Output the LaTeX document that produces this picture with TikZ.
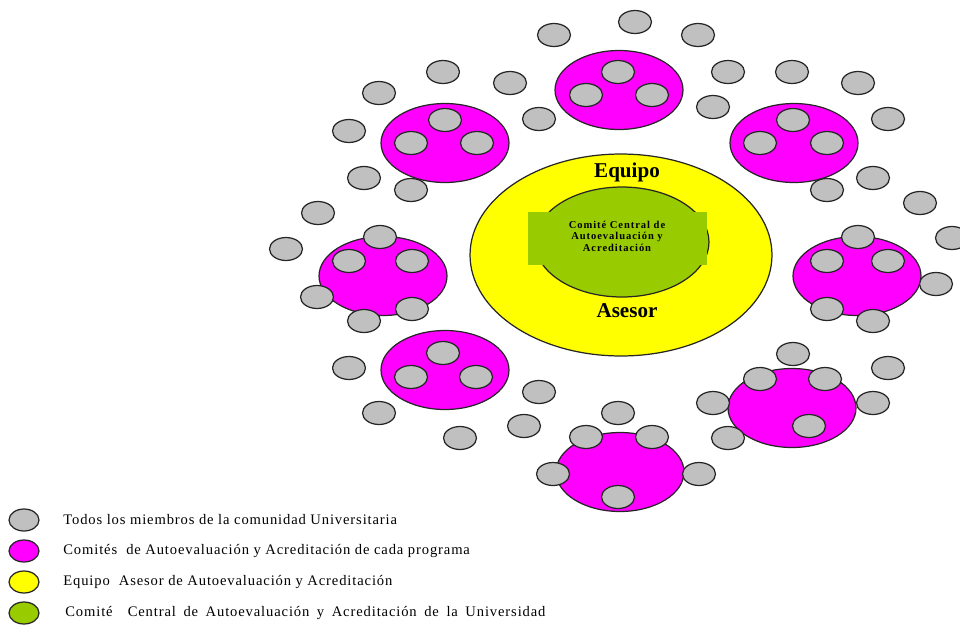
\documentclass[tikz,border=0pt]{standalone}
\usepackage{fontspec}
\setmainfont{Liberation Serif}
\usetikzlibrary{shapes.geometric}
\definecolor{grismiembro}{HTML}{C0C0C0}
\definecolor{magentacomite}{HTML}{FF00FF}
\definecolor{amarilloequipo}{HTML}{FFFF00}
\definecolor{verdecentral}{HTML}{99CC00}
\tikzset{
  miembro/.style={ellipse, draw=black!85, line width=.7pt, fill=grismiembro, minimum width=.66cm, minimum height=.46cm, inner sep=0pt},
  comite/.style={ellipse, draw=black!85, line width=.7pt, fill=magentacomite, minimum width=2.56cm, minimum height=1.58cm, inner sep=0pt},
  leyenda/.style={anchor=west, inner sep=0pt, font=\fontsize{8.3}{9}\selectfont\addfontfeatures{LetterSpace=6}}
}
\begin{document}
\begin{tikzpicture}[x=.02cm, y=-.02cm]
        \useasboundingbox (0,0) rectangle (960,626);

        %equipo asesor y comite central
        \node[ellipse, draw=black!85, line width=.7pt, fill=amarilloequipo, minimum width=6.04cm, minimum height=4.04cm] (equipo) at (621,255) {};
        \node[ellipse, draw=black!85, line width=.7pt, fill=verdecentral, minimum width=3.48cm, minimum height=2.2cm] (central) at (622,242) {};
        \node[fill=verdecentral, minimum width=3.58cm, minimum height=1.06cm, inner sep=0pt] (recuadro) at (617.5,238.5) {};
        \node[align=center, font=\fontsize{6}{6.5}\selectfont\bfseries\addfontfeatures{LetterSpace=9}] (textocentral) at (617,236) {Comité Central de\\Autoevaluación y\\Acreditación};
        \node[font=\fontsize{12}{14}\selectfont\bfseries] (equipotxt) at (627,172) {Equipo};
        \node[font=\fontsize{12}{14}\selectfont\bfseries] (asesortxt) at (627,311) {Asesor};

        % comites de cada programa
        \node[comite] (c1) at (619,90) {};
        \node[comite] (c2) at (445,143) {};
        \node[comite] (c3) at (794,143) {};
        \node[comite] (c4) at (383,276) {};
        \node[comite] (c5) at (857,276) {};
        \node[comite] (c6) at (445,370) {};
        \node[comite] (c7) at (792,408) {};
        \node[comite] (c8) at (620,472) {};

        % miembros, arriba
        \node[miembro] (m1) at (554,35) {};
        \node[miembro] (m2) at (635,22) {};
        \node[miembro] (m3) at (698,35) {};
        \node[miembro] (m4) at (443,72) {};
        \node[miembro] (m5) at (510,83) {};
        \node[miembro] (m6) at (728,72) {};
        \node[miembro] (m7) at (792,72) {};
        \node[miembro] (m8) at (858,83) {};
        \node[miembro] (m9) at (379,93) {};
        \node[miembro] (m10) at (539,119) {};
        \node[miembro] (m11) at (713,107) {};
        \node[miembro] (m12) at (888,119) {};
        \node[miembro] (m13) at (349,131) {};
        \node[miembro] (m14) at (618,72) {};
        \node[miembro] (m15) at (586,95) {};
        \node[miembro] (m16) at (652,95) {};
        \node[miembro] (m17) at (445,120) {};
        \node[miembro] (m18) at (411,143) {};
        \node[miembro] (m19) at (477,143) {};
        \node[miembro] (m20) at (793,120) {};
        \node[miembro] (m21) at (760,143) {};
        \node[miembro] (m22) at (827,143) {};

        % miembros, centro
        \node[miembro] (m23) at (364,178) {};
        \node[miembro] (m24) at (411,190) {};
        \node[miembro] (m25) at (827,190) {};
        \node[miembro] (m26) at (873,178) {};
        \node[miembro] (m27) at (920,203) {};
        \node[miembro] (m28) at (318,213) {};
        \node[miembro] (m29) at (952,238) {};
        \node[miembro] (m30) at (286,249) {};
        \node[miembro] (m31) at (936,284) {};
        \node[miembro] (m32) at (380,237) {};
        \node[miembro] (m33) at (349,261) {};
        \node[miembro] (m34) at (412,261) {};
        \node[miembro] (m35) at (317,297) {};
        \node[miembro] (m36) at (412,309) {};
        \node[miembro] (m37) at (364,321) {};
        \node[miembro] (m38) at (858,237) {};
        \node[miembro] (m39) at (827,261) {};
        \node[miembro] (m40) at (888,261) {};
        \node[miembro] (m41) at (827,309) {};
        \node[miembro] (m42) at (873,321) {};

        % miembros, abajo
        \node[miembro] (m43) at (443,353) {};
        \node[miembro] (m44) at (411,377) {};
        \node[miembro] (m45) at (476,377) {};
        \node[miembro] (m46) at (349,368) {};
        \node[miembro] (m47) at (379,413) {};
        \node[miembro] (m48) at (460,438) {};
        \node[miembro] (m49) at (539,392) {};
        \node[miembro] (m50) at (524,426) {};
        \node[miembro] (m51) at (618,413) {};
        \node[miembro] (m52) at (586,437) {};
        \node[miembro] (m53) at (652,437) {};
        \node[miembro] (m54) at (553,474) {};
        \node[miembro] (m55) at (699,474) {};
        \node[miembro] (m56) at (618,497) {};
        \node[miembro] (m57) at (793,354) {};
        \node[miembro] (m58) at (760,379) {};
        \node[miembro] (m59) at (825,379) {};
        \node[miembro] (m60) at (713,403) {};
        \node[miembro] (m61) at (873,403) {};
        \node[miembro] (m62) at (888,368) {};
        \node[miembro] (m63) at (728,438) {};
        \node[miembro] (m64) at (809,426) {};

        % leyenda
        \node[miembro, minimum width=.6cm, minimum height=.44cm] (l1) at (24,520) {};
        \node[ellipse, draw=black!85, line width=.7pt, fill=magentacomite, minimum width=.6cm, minimum height=.44cm] (l2) at (24,551) {};
        \node[ellipse, draw=black!85, line width=.7pt, fill=amarilloequipo, minimum width=.6cm, minimum height=.44cm] (l3) at (24,582) {};
        \node[ellipse, draw=black!85, line width=.7pt, fill=verdecentral, minimum width=.6cm, minimum height=.44cm] (l4) at (24,613) {};
        \node[leyenda] (t1) at (63,520) {Todos los miembros de la comunidad Universitaria};
        \node[leyenda] (t2) at (63,551) {Comités\ \ de Autoevaluación y Acreditación de cada programa};
        \node[leyenda] (t3) at (63,582) {Equipo\ \ Asesor de Autoevaluación y Acreditación};
        \node[leyenda] (t4) at (65,613) {\spaceskip=4.3pt Comité\ \ Central de Autoevaluación y Acreditación de la Universidad};
    \end{tikzpicture}
\end{document}
